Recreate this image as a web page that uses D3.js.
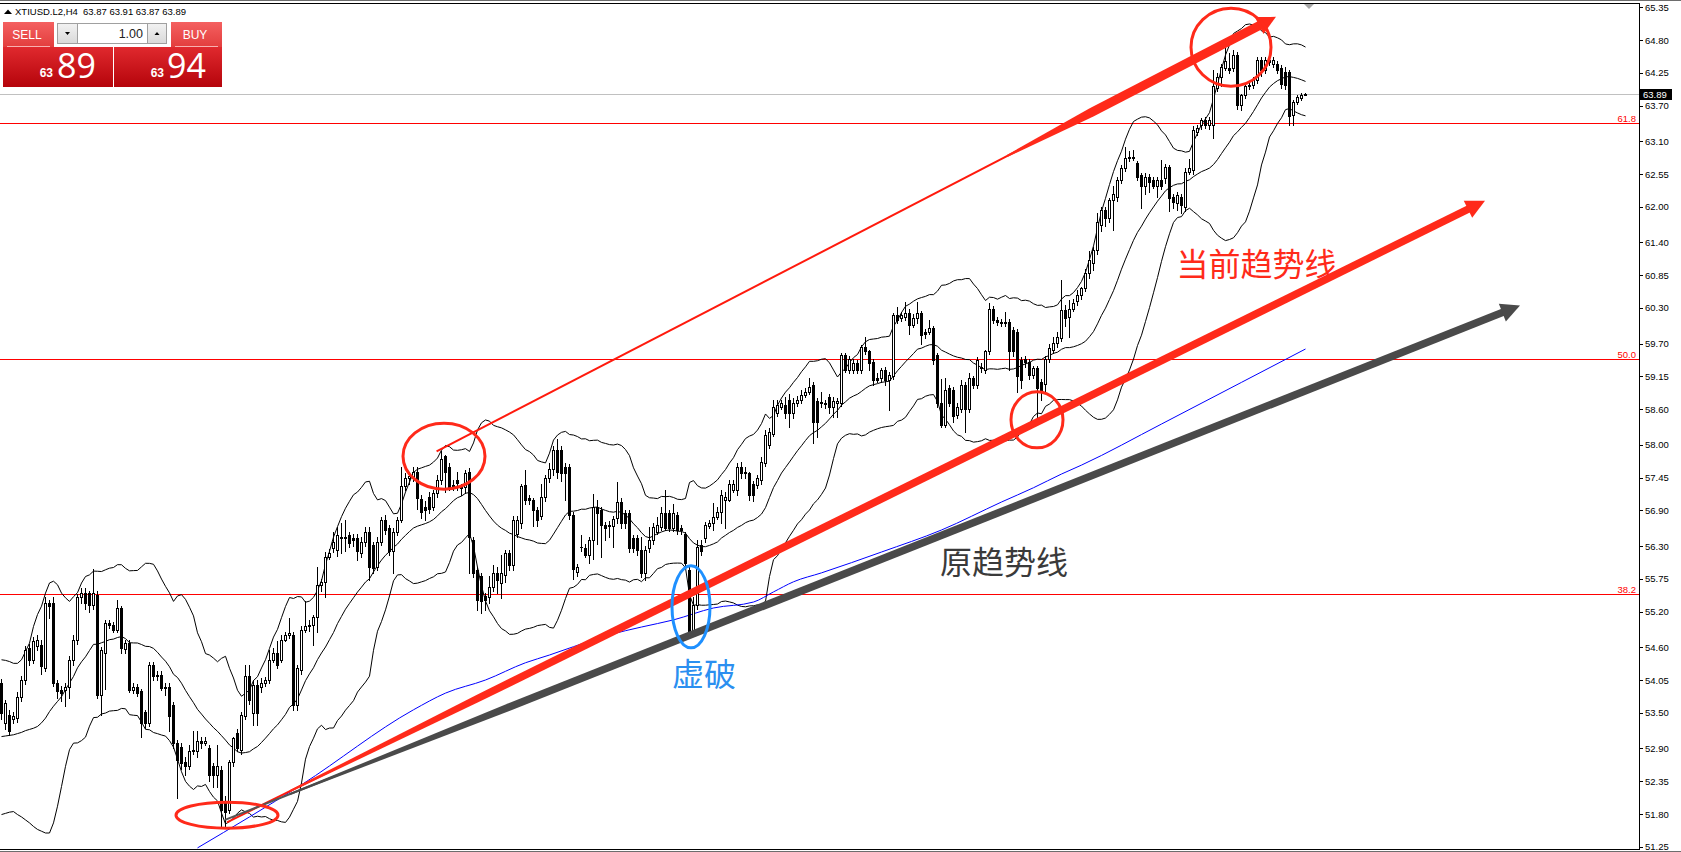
<!DOCTYPE html>
<html><head><meta charset="utf-8">
<script src="https://cdn.jsdelivr.net/npm/d3@7"></script>
<style>html,body{margin:0;padding:0;background:#fff;overflow:hidden}</style>
</head><body>
<svg id="chart" width="1681" height="852"></svg>
<script>
// ---------------- DATA ----------------
const symbolTitle = "XTIUSD.L2,H4";
const lastOHLC = ["63.87", "63.91", "63.87", "63.89"];
const lotText = "1.00";
const sellQuote = ["63", "89"];
const buyQuote = ["63", "94"];

const opens = [54.00,53.33,53.47,53.40,53.41,53.77,54.05,54.58,54.39,54.62,
54.64,54.25,55.34,55.34,54.00,53.88,53.89,53.94,54.39,54.73,
55.45,55.51,55.51,55.31,55.48,53.80,54.50,55.01,54.98,54.89,
55.26,54.57,54.67,53.89,53.94,53.86,53.52,53.33,54.31,54.11,
54.14,53.92,53.94,53.63,52.99,52.93,52.68,52.60,52.85,52.85,
53.02,53.00,52.91,52.60,52.46,52.54,51.98,51.87,52.68,53.16,
52.88,53.44,54.11,53.49,53.97,53.94,54.00,54.05,54.39,54.50,
54.39,54.73,54.81,54.81,53.63,54.22,54.89,54.95,54.98,55.11,
55.65,55.70,56.12,56.26,56.23,56.46,56.43,56.49,56.43,56.43,
56.18,56.37,56.54,56.32,55.95,56.37,56.74,56.60,56.21,56.54,
56.74,57.31,57.44,57.44,57.55,57.09,56.96,57.13,56.96,57.19,
57.41,57.81,57.63,57.33,57.41,57.30,57.30,57.55,56.40,55.90,
55.79,55.46,55.45,55.62,55.84,55.68,55.81,56.18,55.98,56.51,
56.68,57.33,57.10,57.07,56.91,56.80,57.13,57.44,57.60,57.91,
57.91,57.63,57.63,56.82,55.87,56.29,56.26,56.15,56.40,56.96,
56.90,56.65,56.63,56.63,56.77,57.04,56.85,56.85,56.43,56.43,
56.23,55.84,56.26,56.40,56.54,56.62,56.85,56.85,56.60,56.82,
56.60,56.51,55.90,54.89,55.31,56.32,56.43,56.63,56.68,56.79,
56.87,57.07,57.07,57.24,57.24,57.63,57.55,57.52,57.35,57.33,
57.41,57.69,57.99,58.19,58.53,58.64,58.67,58.75,58.53,58.70,
58.75,58.84,58.89,59.00,58.73,58.72,58.70,58.81,58.64,58.70,
58.70,59.51,59.26,59.26,59.37,59.26,59.65,59.57,59.40,59.12,
59.12,59.26,59.09,59.15,60.18,60.13,60.15,60.21,60.01,60.13,
60.21,59.90,59.90,59.96,59.51,58.70,58.34,58.95,58.92,58.50,
58.61,59.00,58.61,59.12,59.01,59.31,59.26,59.57,60.29,60.10,
60.07,60.07,60.07,59.93,59.90,59.43,59.45,59.40,59.17,59.29,
59.06,59.03,59.45,59.60,59.71,59.79,60.27,60.15,60.29,60.41,
60.52,60.63,60.88,61.05,61.28,61.70,61.95,61.81,62.11,62.17,
62.45,62.65,62.84,62.82,62.73,62.53,62.34,62.50,62.45,62.34,
62.45,62.48,62.67,62.17,62.06,62.17,62.00,62.59,62.62,63.26,
63.37,63.46,63.37,63.37,64.00,64.18,64.33,64.33,64.33,64.55,
63.71,63.88,64.02,64.05,64.13,64.47,64.30,64.47,64.40,64.40,
64.33,64.27,64.27,63.54,63.76,63.82,63.87];

const highs = [54.06,53.72,53.55,53.52,53.85,54.12,54.62,54.66,54.78,54.80,
54.72,55.45,55.40,55.45,54.05,53.95,54.00,54.45,54.80,55.50,
55.60,55.60,55.55,55.91,55.55,54.60,55.06,55.06,55.02,55.40,
55.30,54.72,54.72,54.00,53.99,53.90,53.55,54.35,54.35,54.20,
54.20,54.00,54.00,53.68,53.05,53.00,52.75,52.95,53.20,53.20,
53.10,53.10,52.96,52.65,52.95,52.60,52.10,52.70,53.10,53.22,
53.52,54.30,54.30,54.05,54.05,54.08,54.10,54.55,54.58,54.70,
54.80,54.85,55.10,54.85,54.30,54.95,55.37,55.05,55.15,55.95,
55.75,56.20,56.25,56.54,56.62,56.68,56.74,56.53,56.50,56.50,
56.45,56.62,56.62,56.37,56.45,56.79,56.82,56.65,56.60,56.79,
57.62,57.52,57.55,57.62,57.63,57.16,57.05,57.20,57.25,57.50,
57.89,57.83,57.69,57.41,57.55,57.35,57.58,57.61,56.45,55.95,
55.84,55.51,55.79,55.98,55.95,56.15,56.23,56.24,56.80,56.80,
57.35,57.57,57.15,57.10,56.96,57.35,57.50,57.70,57.98,58.10,
57.98,57.70,57.68,56.88,56.00,56.48,56.34,56.45,57.18,57.07,
56.95,56.70,56.72,56.80,57.38,57.10,56.90,56.90,56.48,56.48,
56.46,56.30,56.62,56.68,56.79,56.96,57.24,56.90,57.00,56.88,
56.65,56.54,55.98,55.45,56.40,56.40,56.71,56.73,57.02,56.95,
57.24,57.20,57.41,57.41,57.70,57.72,57.62,57.55,57.40,57.50,
57.80,58.25,58.28,58.75,58.75,58.75,58.80,58.85,58.78,58.82,
58.92,58.96,59.12,59.05,58.78,58.89,58.75,58.85,58.81,58.78,
59.54,59.54,59.50,59.45,59.42,59.68,59.82,59.60,59.45,59.20,
59.29,59.30,59.22,60.21,60.32,60.24,60.40,60.29,60.20,60.40,
60.25,59.95,60.10,60.00,59.55,59.10,59.12,59.01,58.98,58.70,
59.09,59.05,59.20,59.15,59.48,59.37,59.60,60.38,60.33,60.15,
60.12,60.24,60.12,59.98,59.95,59.48,59.50,59.45,59.33,59.33,
59.10,59.50,59.70,59.82,59.90,60.77,60.35,60.43,60.45,60.60,
60.66,60.95,61.25,61.33,61.90,62.00,62.00,62.15,62.34,62.50,
62.70,63.01,62.93,62.96,62.76,62.56,62.56,62.55,62.50,62.50,
62.79,62.72,62.70,62.22,62.25,62.22,62.65,62.81,63.35,63.38,
63.49,63.50,63.51,64.30,64.25,64.40,64.75,64.58,64.63,64.60,
63.90,64.08,64.12,64.18,64.52,64.52,64.52,64.52,64.52,64.45,
64.38,64.35,64.30,63.80,63.88,63.91,63.91];

const lows = [53.40,53.22,53.12,53.33,53.35,53.70,53.98,54.30,54.33,54.55,
54.15,54.20,55.10,53.95,53.75,53.70,53.62,53.75,54.30,54.65,
55.35,55.25,55.20,55.25,53.75,53.47,53.90,54.92,54.85,54.85,
54.50,54.50,53.85,53.83,53.78,53.10,53.25,53.28,54.05,54.05,
53.88,53.80,53.20,52.90,52.06,52.55,52.45,52.55,52.80,52.75,
52.90,52.95,52.35,52.25,52.26,51.60,51.59,51.82,52.60,52.85,
52.80,53.40,53.65,53.30,53.30,53.85,53.95,54.00,54.35,54.25,
54.35,54.70,54.75,53.55,53.55,54.15,54.85,54.88,54.64,54.86,
55.55,55.45,56.08,56.20,56.14,56.18,56.21,56.29,56.30,56.07,
56.12,56.30,55.73,55.85,55.90,56.32,56.50,56.15,55.84,56.49,
56.70,57.25,57.35,57.40,56.93,56.77,56.74,56.85,56.90,57.12,
57.35,57.21,57.24,57.24,57.24,57.15,57.19,55.84,55.78,55.23,
55.18,55.23,55.34,55.55,55.51,55.42,55.70,55.90,55.90,56.46,
56.60,57.00,57.00,56.63,56.63,56.75,57.05,57.38,57.50,57.45,
57.40,57.07,56.75,55.75,55.80,56.21,56.12,56.01,56.09,56.34,
56.12,56.40,56.46,56.29,56.68,56.60,56.60,56.20,56.20,56.15,
55.78,55.73,56.20,56.34,56.51,56.57,56.57,56.55,56.55,56.50,
56.50,55.95,54.75,54.83,55.25,56.15,56.37,56.60,56.57,56.75,
56.68,56.60,57.05,57.20,57.15,57.45,57.45,57.08,57.05,57.27,
57.35,57.65,57.95,58.15,58.48,58.60,58.45,58.30,58.45,58.65,
58.70,58.80,58.85,58.03,58.14,58.64,58.62,58.53,58.47,58.47,
58.65,59.23,59.20,59.20,59.20,59.20,59.52,59.26,59.00,59.05,
59.06,59.00,58.59,59.10,60.05,60.08,60.10,59.87,59.98,60.05,
59.70,59.80,59.87,59.35,58.64,58.30,58.30,58.65,58.39,58.45,
58.55,58.22,58.55,58.95,58.95,59.23,59.20,59.52,60.05,60.02,
60.00,60.00,59.26,59.50,58.89,58.95,59.30,59.10,59.12,58.36,
58.75,58.89,59.40,59.55,59.65,59.74,60.00,59.82,60.25,60.35,
60.45,60.58,60.80,60.94,61.20,61.60,61.67,61.75,61.61,62.10,
62.40,62.60,62.76,62.78,62.45,61.98,62.22,62.25,62.31,62.17,
62.30,62.40,61.92,61.98,61.95,61.90,61.92,62.55,62.55,63.20,
63.30,63.32,63.30,63.15,63.95,64.02,64.30,64.25,64.28,63.65,
63.62,63.82,63.98,64.00,64.08,64.20,64.25,64.38,64.35,64.25,
64.00,63.98,63.38,63.37,63.72,63.80,63.87];

const closes = [53.50,53.66,53.19,53.44,53.77,54.05,54.56,54.39,54.70,54.73,
54.28,55.34,55.29,54.00,53.86,53.83,53.94,54.39,54.73,55.45,
55.51,55.34,55.31,55.51,53.80,54.56,55.01,54.98,54.89,55.26,
54.59,54.67,53.89,53.94,53.83,53.33,53.33,54.31,54.11,54.14,
53.92,53.94,53.44,52.99,52.71,52.65,52.60,52.85,52.88,53.02,
53.00,53.02,52.46,52.46,52.60,51.87,51.84,52.68,53.07,52.91,
53.47,54.11,53.72,53.97,53.49,54.00,54.05,54.39,54.50,54.31,
54.73,54.81,54.84,53.63,54.25,54.89,54.95,54.98,55.11,55.65,
55.70,56.12,56.18,56.37,56.49,56.43,56.46,56.35,56.40,56.21,
56.37,56.54,55.95,55.93,56.37,56.74,56.57,56.21,56.54,56.74,
57.31,57.44,57.47,57.55,57.10,56.88,56.91,56.92,57.19,57.41,
57.77,57.55,57.30,57.30,57.36,57.27,57.52,56.46,55.84,55.39,
55.37,55.40,55.62,55.84,55.73,55.84,56.18,55.98,56.74,56.74,
57.31,57.07,57.08,56.91,56.74,57.13,57.44,57.60,57.91,57.55,
57.52,57.52,56.82,55.92,55.95,56.28,56.15,56.40,56.96,56.85,
56.65,56.60,56.65,56.75,57.04,56.68,56.68,56.26,56.26,56.23,
55.84,56.23,56.40,56.62,56.65,56.85,56.60,56.60,56.85,56.57,
56.57,56.01,54.80,55.31,56.29,56.21,56.65,56.68,56.79,56.87,
57.16,57.13,57.35,57.35,57.63,57.52,57.52,57.16,57.16,57.44,
57.72,58.16,58.22,58.64,58.67,58.70,58.53,58.53,58.70,58.75,
58.83,58.89,58.97,58.39,58.39,58.70,58.68,58.64,58.73,58.73,
59.51,59.26,59.45,59.37,59.26,59.65,59.57,59.37,59.09,59.09,
59.26,59.09,59.17,60.18,60.10,60.18,60.21,60.01,60.13,60.21,
59.85,59.87,59.96,59.43,58.70,58.34,58.92,58.70,58.48,58.64,
59.00,58.61,59.12,59.01,59.43,59.29,59.57,60.29,60.10,60.07,
60.05,60.05,59.57,59.57,59.15,59.09,59.40,59.17,59.29,58.95,
58.92,59.45,59.62,59.71,59.82,60.27,60.13,60.29,60.38,60.52,
60.63,60.88,61.10,61.28,61.75,61.95,61.81,62.11,62.22,62.45,
62.65,62.82,62.82,62.84,62.50,62.34,62.50,62.42,62.34,62.45,
62.34,62.67,62.14,62.08,62.20,62.03,62.59,62.65,63.29,63.32,
63.46,63.37,63.46,64.02,64.18,64.35,64.44,64.30,64.55,63.71,
63.88,64.02,64.05,64.13,64.47,64.30,64.47,64.43,64.47,64.30,
64.07,64.05,63.52,63.76,63.85,63.87,63.89];

// Bollinger values for the first 19 bars (before a full 20-bar window exists)
const bbHeadUpper = [54.39,54.38,54.36,54.33,54.33,54.39,54.53,54.67,54.95,55.15,55.29,55.51,55.68,55.71,55.65,55.51,55.43,55.37,55.45];
const bbHeadMiddle = [53.10,53.11,53.12,53.13,53.15,53.17,53.20,53.22,53.24,53.27,53.33,53.41,53.52,53.61,53.69,53.77,53.89,54.00,54.11];
const bbHeadLower = [51.79,51.81,51.83,51.84,51.79,51.75,51.70,51.65,51.59,51.54,51.51,51.48,51.48,51.65,51.93,52.26,52.60,52.88,52.99];

// long moving average (blue), read at bar indices
const maIndex = [49,75,103,111,121,131,137,143,152,160,168,178,188,193,198,205,220,235,250,258,265,270,290,310,326];
const maValue = [51.23,52.29,53.55,53.83,54.05,54.34,54.47,54.61,54.81,54.94,55.06,55.26,55.36,55.53,55.70,55.85,56.20,56.57,57.04,57.28,57.51,57.66,58.35,59.05,59.61];

const priceTicks = [65.35,64.80,64.25,63.70,63.10,62.55,62.00,61.40,60.85,60.30,59.70,59.15,58.60,58.00,57.45,56.90,56.30,55.75,55.20,54.60,54.05,53.50,52.90,52.35,51.80,51.25];
const fibLabels = ["61.8", "50.0", "38.2"];
const fibPrices = [63.40, 59.45, 55.50];
const bidPrice = 63.89;

// drawn trend lines: [barIndex, price]
const trendStart = [[108.9, 57.89], [56.5, 51.66], [56.0, 51.70]];
const trendEnd   = [[318.75, 65.19], [371.0, 62.10], [379.75, 60.34]];
// fraction of the line where the hand-drawn thickening starts / reaches full width
const taperFrom = [0.68, 0.05, 0.05];
const taperTo   = [0.78, 0.20, 0.22];

// ellipse marks: centre [barIndex, price]
const ellipseCentre = [[56.5, 51.78], [110.75, 57.81], [259.0, 58.42], [307.5, 64.68], [172.5, 55.28]];
const ellipseRadius = [[51, 13], [41, 33], [26, 28], [40, 39], [19, 41]];

const noteText = ["当前趋势线", "原趋势线", "虚破"];
const noteAt = [[293.9, 61.07], [234.75, 56.06], [167.75, 54.18]];

// ---------------- LAYOUT ----------------
const W = 1681, H = 852;
const plotRight = 1639, plotTop = 3, plotBottom = 849;
const svg = d3.select("#chart");
const x = d3.scaleLinear().domain([0, closes.length - 1]).range([1, 1 + 4 * (closes.length - 1)]);
const y = d3.scaleLinear().domain([51.25, 65.35]).range([846.7, 7.3]);

svg.append("rect").attr("width", W).attr("height", H).attr("fill", "#fff");
const defs = svg.append("defs");
defs.append("clipPath").attr("id", "plotClip")
  .append("rect").attr("x", 0).attr("y", plotTop).attr("width", plotRight).attr("height", plotBottom - plotTop);

const plot = svg.append("g").attr("clip-path", "url(#plotClip)");

// fib levels
fibPrices.forEach((p, k) => {
  const yy = Math.round(y(p)) + 0.5;
  plot.append("line").attr("x1", 0).attr("x2", plotRight).attr("y1", yy).attr("y2", yy)
    .attr("stroke", "#ff0000").attr("stroke-width", 1).attr("shape-rendering", "crispEdges");
  svg.append("text").attr("x", 1636).attr("y", yy - 2).attr("text-anchor", "end")
    .attr("font-family", "Liberation Sans, Arial, sans-serif").attr("font-size", 9.5)
    .attr("fill", "#ff0000").text(fibLabels[k]);
});
// bid line
{
  const yy = Math.round(y(bidPrice)) + 0.5;
  plot.append("line").attr("x1", 0).attr("x2", plotRight).attr("y1", yy).attr("y2", yy)
    .attr("stroke", "#c0c0c0").attr("stroke-width", 1).attr("shape-rendering", "crispEdges");
}

// Bollinger bands (20, 2)
const N = closes.length, P = 20;
const bbU = [], bbM = [], bbL = [];
for (let i = 0; i < N; i++) {
  if (i < P - 1) { bbU.push(bbHeadUpper[i]); bbM.push(bbHeadMiddle[i]); bbL.push(bbHeadLower[i]); continue; }
  const w = closes.slice(i - P + 1, i + 1);
  const m = d3.mean(w);
  const sd = Math.sqrt(d3.mean(w, v => (v - m) * (v - m)));
  bbM.push(m); bbU.push(m + 2 * sd); bbL.push(m - 2 * sd);
}
const bandLine = d3.line().x((d, i) => x(i) + 0.5).y(d => y(d));
[bbU, bbM, bbL].forEach(arr => {
  plot.append("path").attr("d", bandLine(arr)).attr("fill", "none").attr("stroke", "#000").attr("stroke-width", 1);
});

// blue MA
const maLine = d3.line().x(d => x(d[0]) + 0.5).y(d => y(d[1])).curve(d3.curveMonotoneX);
plot.append("path").attr("d", maLine(maIndex.map((v, k) => [v, maValue[k]])))
  .attr("fill", "none").attr("stroke", "#0000ff").attr("stroke-width", 1);

// candles
const cg = plot.append("g").attr("shape-rendering", "crispEdges");
for (let i = 0; i < N; i++) {
  const cx = Math.round(x(i));
  const o = opens[i], c = closes[i];
  cg.append("rect").attr("x", cx).attr("y", Math.round(y(highs[i])))
    .attr("width", 1).attr("height", Math.max(1, Math.round(y(lows[i])) - Math.round(y(highs[i])) + 1)).attr("fill", "#000");
  const top = Math.round(y(Math.max(o, c))), bot = Math.round(y(Math.min(o, c)));
  const h = Math.max(0, bot - top);
  cg.append("rect").attr("x", cx - 1).attr("y", top).attr("width", 3).attr("height", h + 1).attr("fill", "#000");
  if (c > o && h >= 2) {
    cg.append("rect").attr("x", cx).attr("y", top + 1).attr("width", 1).attr("height", h - 1).attr("fill", "#fff");
  }
}

// trend lines with tapered thick part and arrows
const trendColorThin = ["#ff1a0d", "#ff1a0d", "#555555"];
const trendColorThick = ["#ff2a1a", "#ff2a1a", "#4a4a4a"];
const trendWidth = [9, 7.5, 7.5];
const ag = svg.append("g");
trendStart.forEach((s, k) => {
  const e = trendEnd[k];
  const x1 = x(s[0]), y1 = y(s[1]), x2 = x(e[0]), y2 = y(e[1]);
  const dx = x2 - x1, dy = y2 - y1, len = Math.hypot(dx, dy);
  const ux = dx / len, uy = dy / len, px = -uy, py = ux;
  const L = 19, hw = 9.5;
  const bx = x2 - ux * L, by = y2 - uy * L;
  const pt = t => [x1 + dx * t, y1 + dy * t];
  ag.append("line").attr("x1", x1).attr("y1", y1).attr("x2", bx).attr("y2", by)
    .attr("stroke", trendColorThin[k]).attr("stroke-width", 2);
  const a = pt(taperFrom[k]), b = pt(taperTo[k]), hwid = trendWidth[k] / 2;
  const poly = [
    [a[0] + px * 1, a[1] + py * 1],
    [b[0] + px * hwid, b[1] + py * hwid],
    [bx + ux * 2 + px * hwid, by + uy * 2 + py * hwid],
    [bx + ux * 2 - px * hwid, by + uy * 2 - py * hwid],
    [b[0] - px * hwid, b[1] - py * hwid],
    [a[0] - px * 1, a[1] - py * 1]
  ];
  ag.append("polygon").attr("points", poly.map(p => p.join(",")).join(" ")).attr("fill", trendColorThick[k]);
  ag.append("polygon").attr("points", [[x2, y2], [bx + px * hw, by + py * hw], [bx - px * hw, by - py * hw]].map(p => p.join(",")).join(" "))
    .attr("fill", trendColorThick[k]);
});

// ellipses
const ellColor = ["#ff2a1a", "#ff2a1a", "#ff2a1a", "#ff2a1a", "#1e90ff"];
ellipseCentre.forEach((c, k) => {
  ag.append("ellipse").attr("cx", x(c[0])).attr("cy", y(c[1]))
    .attr("rx", ellipseRadius[k][0]).attr("ry", ellipseRadius[k][1])
    .attr("fill", "none").attr("stroke", ellColor[k]).attr("stroke-width", 3);
});

// notes
const noteColor = ["#ff2a1a", "#3a3a3a", "#2b8ff0"];
noteText.forEach((t, k) => {
  ag.append("text").attr("x", x(noteAt[k][0])).attr("y", y(noteAt[k][1]))
    .attr("dominant-baseline", "central")
    .attr("font-family", "Noto Sans CJK SC, sans-serif").attr("font-size", 32)
    .attr("fill", noteColor[k]).text(t);
});

// frame
svg.append("line").attr("x1", 0).attr("x2", W).attr("y1", 0.5).attr("y2", 0.5).attr("stroke", "#6d6d6d").attr("shape-rendering", "crispEdges");
svg.append("line").attr("x1", 0).attr("x2", plotRight).attr("y1", 3.5).attr("y2", 3.5).attr("stroke", "#000").attr("shape-rendering", "crispEdges");
svg.append("line").attr("x1", plotRight + 0.5).attr("x2", plotRight + 0.5).attr("y1", 3).attr("y2", 850).attr("stroke", "#000").attr("shape-rendering", "crispEdges");
svg.append("line").attr("x1", 0).attr("x2", plotRight).attr("y1", 849.5).attr("y2", 849.5).attr("stroke", "#000").attr("shape-rendering", "crispEdges");
svg.append("line").attr("x1", 0).attr("x2", W).attr("y1", 851.5).attr("y2", 851.5).attr("stroke", "#6d6d6d").attr("shape-rendering", "crispEdges");
// shift marker
svg.append("polygon").attr("points", "1304,4 1314,4 1309,9").attr("fill", "#a8a8a8");

// price axis
const axisG = svg.append("g").attr("transform", `translate(${plotRight},0)`);
const axis = d3.axisRight(y).tickValues(priceTicks).tickFormat(d3.format(".2f")).tickSize(4).tickPadding(2);
axisG.call(axis);
axisG.select(".domain").remove();
axisG.selectAll(".tick line").attr("stroke", "#000").attr("shape-rendering", "crispEdges");
axisG.selectAll(".tick text").attr("font-family", "Liberation Sans, Arial, sans-serif").attr("font-size", 9.5).attr("fill", "#000");
// bid label
{
  const yy = Math.round(y(bidPrice));
  svg.append("rect").attr("x", 1640).attr("y", yy - 5).attr("width", 32).attr("height", 11).attr("fill", "#000");
  svg.append("text").attr("x", 1643).attr("y", yy + 4).attr("font-family", "Liberation Sans, Arial, sans-serif")
    .attr("font-size", 9.5).attr("fill", "#fff").text(lastOHLC[3]);
}

// header
svg.append("polygon").attr("points", "4,14 8,9.5 12,14").attr("fill", "#000");
svg.append("text").attr("x", 15).attr("y", 15).attr("font-family", "Liberation Sans, Arial, sans-serif")
  .attr("font-size", 9.5).attr("fill", "#000").text(symbolTitle);
svg.append("text").attr("x", 83).attr("y", 15).attr("font-family", "Liberation Sans, Arial, sans-serif")
  .attr("font-size", 9.5).attr("fill", "#000").text(lastOHLC.join(" "));

// one-click panel
const g1 = defs.append("linearGradient").attr("id", "btnGrad").attr("x1", 0).attr("x2", 0).attr("y1", 0).attr("y2", 1);
g1.append("stop").attr("offset", "0").attr("stop-color", "#f46060");
g1.append("stop").attr("offset", "1").attr("stop-color", "#e23c3c");
const g2 = defs.append("linearGradient").attr("id", "priceGrad").attr("x1", 0).attr("x2", 0).attr("y1", 0).attr("y2", 1);
g2.append("stop").attr("offset", "0").attr("stop-color", "#e0292e");
g2.append("stop").attr("offset", "1").attr("stop-color", "#b5040b");
const g3 = defs.append("linearGradient").attr("id", "grayGrad").attr("x1", 0).attr("x2", 0).attr("y1", 0).attr("y2", 1);
g3.append("stop").attr("offset", "0").attr("stop-color", "#f2f2f2");
g3.append("stop").attr("offset", "1").attr("stop-color", "#d9d9d9");

const panel = svg.append("g");
panel.append("rect").attr("x", 3).attr("y", 22).attr("width", 51).attr("height", 26).attr("fill", "url(#btnGrad)");
panel.append("rect").attr("x", 171).attr("y", 22).attr("width", 51).attr("height", 26).attr("fill", "url(#btnGrad)");
panel.append("rect").attr("x", 3).attr("y", 47).attr("width", 110).attr("height", 40).attr("fill", "url(#priceGrad)");
panel.append("rect").attr("x", 114).attr("y", 47).attr("width", 108).attr("height", 40).attr("fill", "url(#priceGrad)");
panel.append("line").attr("x1", 7).attr("x2", 50).attr("y1", 46.5).attr("y2", 46.5).attr("stroke", "#f8b0b0");
panel.append("line").attr("x1", 175).attr("x2", 218).attr("y1", 46.5).attr("y2", 46.5).attr("stroke", "#f8b0b0");
panel.append("rect").attr("x", 57.5).attr("y", 23.5).attr("width", 20).attr("height", 20).attr("fill", "url(#grayGrad)").attr("stroke", "#a0a0a0");
panel.append("rect").attr("x", 77.5).attr("y", 23.5).attr("width", 70).attr("height", 20).attr("fill", "#fff").attr("stroke", "#a0a0a0");
panel.append("rect").attr("x", 147.5).attr("y", 23.5).attr("width", 19).attr("height", 20).attr("fill", "url(#grayGrad)").attr("stroke", "#a0a0a0");
panel.append("polygon").attr("points", "65,32 70,32 67.5,35").attr("fill", "#000");
panel.append("polygon").attr("points", "154.5,35 159.5,35 157,32").attr("fill", "#000");
const pf = "Liberation Sans, Arial, sans-serif";
panel.append("text").attr("x", 143).attr("y", 38).attr("text-anchor", "end").attr("font-family", pf).attr("font-size", 12.5).attr("fill", "#222").text(lotText);
panel.append("text").attr("x", 27).attr("y", 39).attr("text-anchor", "middle").attr("font-family", pf).attr("font-size", 12).attr("fill", "#fff").text("SELL");
panel.append("text").attr("x", 195).attr("y", 39).attr("text-anchor", "middle").attr("font-family", pf).attr("font-size", 12).attr("fill", "#fff").text("BUY");
panel.append("text").attr("x", 53).attr("y", 77).attr("text-anchor", "end").attr("font-family", pf).attr("font-weight", "bold").attr("font-size", 12).attr("fill", "#fff").text(sellQuote[0]);
panel.append("text").attr("x", 57).attr("y", 78).attr("font-family", "Open Sans, Liberation Sans, sans-serif").attr("font-size", 34).attr("fill", "#fff").text(sellQuote[1]);
panel.append("text").attr("x", 164).attr("y", 77).attr("text-anchor", "end").attr("font-family", pf).attr("font-weight", "bold").attr("font-size", 12).attr("fill", "#fff").text(buyQuote[0]);
panel.append("text").attr("x", 167).attr("y", 78).attr("font-family", "Open Sans, Liberation Sans, sans-serif").attr("font-size", 34).attr("fill", "#fff").text(buyQuote[1]);
</script>
</body></html>
